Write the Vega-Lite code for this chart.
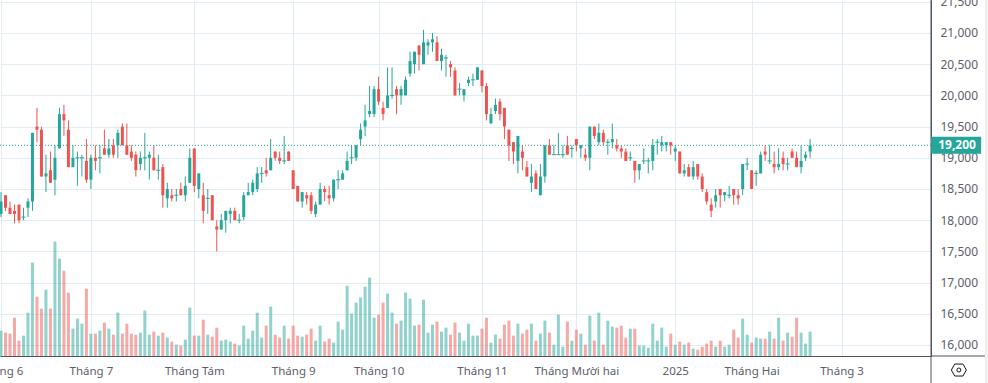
{"$schema":"https://vega.github.io/schema/vega-lite/v6.json","width":931,"height":356,"autosize":"none","padding":{"left":0,"top":0,"right":57,"bottom":27},"background":"white",
"datasets":{"candles":[
{"i":1,"open":18100,"high":18450,"low":18050,"close":18300,"volume":76},
{"i":2,"open":18400,"high":18400,"low":18150,"close":18200,"volume":70},
{"i":3,"open":18200,"high":18300,"low":18100,"close":18100,"volume":67},
{"i":4,"open":18150,"high":18250,"low":17950,"close":18100,"volume":115},
{"i":5,"open":18250,"high":18250,"low":17950,"close":18000,"volume":46},
{"i":6,"open":18050,"high":18200,"low":18000,"close":18050,"volume":61},
{"i":7,"open":18200,"high":18350,"low":18050,"close":18300,"volume":130},
{"i":8,"open":18300,"high":19400,"low":18150,"close":19400,"volume":280},
{"i":9,"open":19500,"high":19800,"low":19250,"close":19450,"volume":178},
{"i":10,"open":19450,"high":19500,"low":18700,"close":18700,"volume":142},
{"i":11,"open":18700,"high":19050,"low":18450,"close":18750,"volume":199},
{"i":12,"open":18800,"high":19100,"low":18600,"close":18600,"volume":142},
{"i":13,"open":18650,"high":19200,"low":18400,"close":19000,"volume":343},
{"i":14,"open":19150,"high":19800,"low":19150,"close":19700,"volume":292},
{"i":15,"open":19700,"high":19850,"low":19350,"close":19600,"volume":256},
{"i":16,"open":19450,"high":19600,"low":18850,"close":18850,"volume":190},
{"i":17,"open":18850,"high":19200,"low":18850,"close":19000,"volume":82},
{"i":18,"open":19000,"high":19100,"low":18550,"close":19000,"volume":112},
{"i":19,"open":19000,"high":19050,"low":18700,"close":19000,"volume":97},
{"i":20,"open":18950,"high":19300,"low":18600,"close":18650,"volume":202},
{"i":21,"open":18650,"high":19050,"low":18500,"close":19000,"volume":67},
{"i":22,"open":19000,"high":19200,"low":18800,"close":18950,"volume":67},
{"i":23,"open":19000,"high":19200,"low":18750,"close":19000,"volume":76},
{"i":24,"open":19150,"high":19450,"low":19050,"close":19050,"volume":100},
{"i":25,"open":19050,"high":19300,"low":19000,"close":19150,"volume":82},
{"i":26,"open":19200,"high":19300,"low":19000,"close":19050,"volume":64},
{"i":27,"open":19200,"high":19450,"low":19000,"close":19400,"volume":130},
{"i":28,"open":19500,"high":19550,"low":19200,"close":19200,"volume":67},
{"i":29,"open":19200,"high":19550,"low":19050,"close":19050,"volume":97},
{"i":30,"open":19100,"high":19200,"low":18950,"close":19000,"volume":67},
{"i":31,"open":19050,"high":19100,"low":18700,"close":18800,"volume":64},
{"i":32,"open":18900,"high":19100,"low":18800,"close":19000,"volume":70},
{"i":33,"open":19000,"high":19400,"low":18800,"close":19000,"volume":136},
{"i":34,"open":19000,"high":19100,"low":18650,"close":19050,"volume":64},
{"i":35,"open":19000,"high":19200,"low":18800,"close":18800,"volume":73},
{"i":36,"open":18800,"high":19050,"low":18650,"close":18800,"volume":61},
{"i":37,"open":18850,"high":18900,"low":18200,"close":18400,"volume":70},
{"i":38,"open":18350,"high":18600,"low":18200,"close":18500,"volume":55},
{"i":39,"open":18400,"high":18500,"low":18300,"close":18350,"volume":43},
{"i":40,"open":18400,"high":18500,"low":18300,"close":18400,"volume":34},
{"i":41,"open":18500,"high":18600,"low":18400,"close":18400,"volume":31},
{"i":42,"open":18400,"high":18700,"low":18300,"close":18550,"volume":49},
{"i":43,"open":18600,"high":19150,"low":18600,"close":19000,"volume":145},
{"i":44,"open":19150,"high":19150,"low":18450,"close":18550,"volume":61},
{"i":45,"open":18500,"high":18750,"low":18350,"close":18750,"volume":61},
{"i":46,"open":18400,"high":18600,"low":17950,"close":18150,"volume":109},
{"i":47,"open":18350,"high":18500,"low":18100,"close":18350,"volume":64},
{"i":48,"open":18400,"high":18400,"low":18000,"close":18000,"volume":58},
{"i":49,"open":17900,"high":18000,"low":17500,"close":17850,"volume":85},
{"i":50,"open":17850,"high":18100,"low":17850,"close":18000,"volume":46},
{"i":51,"open":18000,"high":18150,"low":17800,"close":18150,"volume":49},
{"i":52,"open":18100,"high":18200,"low":17950,"close":18150,"volume":43},
{"i":53,"open":18150,"high":18200,"low":18000,"close":18000,"volume":37},
{"i":54,"open":18000,"high":18100,"low":17950,"close":18000,"volume":31},
{"i":55,"open":18050,"high":18450,"low":18000,"close":18400,"volume":91},
{"i":56,"open":18400,"high":18600,"low":18400,"close":18450,"volume":52},
{"i":57,"open":18450,"high":18650,"low":18400,"close":18600,"volume":76},
{"i":58,"open":18500,"high":18850,"low":18450,"close":18750,"volume":130},
{"i":59,"open":18750,"high":18850,"low":18600,"close":18750,"volume":55},
{"i":60,"open":18800,"high":19000,"low":18700,"close":18750,"volume":91},
{"i":61,"open":18800,"high":19300,"low":18800,"close":19000,"volume":148},
{"i":62,"open":19100,"high":19100,"low":18950,"close":19000,"volume":64},
{"i":63,"open":19000,"high":19100,"low":18900,"close":18950,"volume":55},
{"i":64,"open":18950,"high":19350,"low":18900,"close":18950,"volume":91},
{"i":65,"open":19100,"high":19100,"low":18950,"close":18950,"volume":52},
{"i":66,"open":18800,"high":18800,"low":18500,"close":18500,"volume":91},
{"i":67,"open":18550,"high":18550,"low":18300,"close":18300,"volume":61},
{"i":68,"open":18300,"high":18450,"low":18200,"close":18450,"volume":58},
{"i":69,"open":18400,"high":18450,"low":18250,"close":18350,"volume":64},
{"i":70,"open":18400,"high":18450,"low":18100,"close":18150,"volume":82},
{"i":71,"open":18100,"high":18300,"low":18050,"close":18250,"volume":46},
{"i":72,"open":18250,"high":18600,"low":18250,"close":18500,"volume":91},
{"i":73,"open":18500,"high":18550,"low":18300,"close":18450,"volume":43},
{"i":74,"open":18400,"high":18550,"low":18250,"close":18350,"volume":52},
{"i":75,"open":18350,"high":18650,"low":18300,"close":18650,"volume":40},
{"i":76,"open":18650,"high":18800,"low":18500,"close":18650,"volume":103},
{"i":77,"open":18650,"high":18800,"low":18650,"close":18750,"volume":79},
{"i":78,"open":18800,"high":19100,"low":18800,"close":18950,"volume":211},
{"i":79,"open":19000,"high":19200,"low":18900,"close":19000,"volume":127},
{"i":80,"open":19000,"high":19200,"low":18950,"close":19200,"volume":160},
{"i":81,"open":19300,"high":19550,"low":19200,"close":19450,"volume":175},
{"i":82,"open":19500,"high":19850,"low":19350,"close":19600,"volume":208},
{"i":83,"open":19700,"high":20150,"low":19650,"close":19750,"volume":235},
{"i":84,"open":19700,"high":20150,"low":19650,"close":20100,"volume":115},
{"i":85,"open":20100,"high":20300,"low":19850,"close":19900,"volume":124},
{"i":86,"open":19800,"high":19900,"low":19600,"close":19700,"volume":160},
{"i":87,"open":19800,"high":20450,"low":19800,"close":20000,"volume":187},
{"i":88,"open":20000,"high":20450,"low":19950,"close":20000,"volume":130},
{"i":89,"open":20100,"high":20150,"low":19700,"close":20000,"volume":97},
{"i":90,"open":20000,"high":20150,"low":19850,"close":20100,"volume":106},
{"i":91,"open":20000,"high":20300,"low":20000,"close":20250,"volume":190},
{"i":92,"open":20350,"high":20700,"low":20300,"close":20550,"volume":172},
{"i":93,"open":20500,"high":20700,"low":20350,"close":20700,"volume":91},
{"i":94,"open":20800,"high":20800,"low":20400,"close":20650,"volume":94},
{"i":95,"open":20500,"high":21050,"low":20500,"close":20850,"volume":169},
{"i":96,"open":20800,"high":20900,"low":20650,"close":20850,"volume":70},
{"i":97,"open":20850,"high":21000,"low":20700,"close":20900,"volume":94},
{"i":98,"open":20850,"high":20950,"low":20550,"close":20550,"volume":103},
{"i":99,"open":20550,"high":20750,"low":20400,"close":20650,"volume":73},
{"i":100,"open":20600,"high":20650,"low":20300,"close":20600,"volume":85},
{"i":101,"open":20500,"high":20550,"low":20300,"close":20450,"volume":64},
{"i":102,"open":20400,"high":20450,"low":20000,"close":20000,"volume":100},
{"i":103,"open":20100,"high":20200,"low":20000,"close":20100,"volume":70},
{"i":104,"open":20000,"high":20100,"low":19900,"close":20100,"volume":46},
{"i":105,"open":20200,"high":20300,"low":20150,"close":20250,"volume":97},
{"i":106,"open":20250,"high":20350,"low":20150,"close":20250,"volume":61},
{"i":107,"open":20250,"high":20450,"low":20250,"close":20450,"volume":61},
{"i":108,"open":20400,"high":20400,"low":20050,"close":20150,"volume":82},
{"i":109,"open":20150,"high":20200,"low":19600,"close":19700,"volume":115},
{"i":110,"open":19550,"high":19800,"low":19550,"close":19700,"volume":40},
{"i":111,"open":19750,"high":19950,"low":19700,"close":19850,"volume":64},
{"i":112,"open":19900,"high":19950,"low":19600,"close":19700,"volume":52},
{"i":113,"open":19800,"high":19800,"low":19300,"close":19500,"volume":94},
{"i":114,"open":19450,"high":19450,"low":18950,"close":19200,"volume":106},
{"i":115,"open":19250,"high":19250,"low":18900,"close":19100,"volume":61},
{"i":116,"open":18950,"high":19350,"low":18750,"close":19350,"volume":97},
{"i":117,"open":19100,"high":19200,"low":18800,"close":19000,"volume":67},
{"i":118,"open":18850,"high":18950,"low":18700,"close":18700,"volume":79},
{"i":119,"open":18600,"high":18900,"low":18450,"close":18700,"volume":97},
{"i":120,"open":18750,"high":18800,"low":18500,"close":18500,"volume":46},
{"i":121,"open":18400,"high":18900,"low":18400,"close":18700,"volume":67},
{"i":122,"open":18700,"high":19200,"low":18600,"close":19200,"volume":106},
{"i":123,"open":19200,"high":19300,"low":19050,"close":19050,"volume":70},
{"i":124,"open":19050,"high":19200,"low":19050,"close":19050,"volume":34},
{"i":125,"open":19050,"high":19400,"low":19050,"close":19050,"volume":124},
{"i":126,"open":19050,"high":19200,"low":19000,"close":19050,"volume":28},
{"i":127,"open":19200,"high":19350,"low":19050,"close":19050,"volume":103},
{"i":128,"open":19150,"high":19200,"low":19000,"close":19150,"volume":46},
{"i":129,"open":19300,"high":19300,"low":19100,"close":19200,"volume":79},
{"i":130,"open":19150,"high":19200,"low":19000,"close":19200,"volume":67},
{"i":131,"open":19050,"high":19150,"low":18950,"close":19000,"volume":34},
{"i":132,"open":19000,"high":19500,"low":18800,"close":19500,"volume":121},
{"i":133,"open":19500,"high":19500,"low":19300,"close":19350,"volume":46},
{"i":134,"open":19250,"high":19550,"low":19200,"close":19400,"volume":130},
{"i":135,"open":19400,"high":19450,"low":19200,"close":19250,"volume":34},
{"i":136,"open":19250,"high":19300,"low":19050,"close":19250,"volume":106},
{"i":137,"open":19250,"high":19550,"low":19150,"close":19300,"volume":88},
{"i":138,"open":19200,"high":19300,"low":19100,"close":19150,"volume":85},
{"i":139,"open":19150,"high":19200,"low":19000,"close":19100,"volume":91},
{"i":140,"open":19100,"high":19150,"low":18950,"close":18950,"volume":55},
{"i":141,"open":19000,"high":19100,"low":18950,"close":19000,"volume":82},
{"i":142,"open":18950,"high":18950,"low":18600,"close":18800,"volume":82},
{"i":143,"open":18800,"high":18900,"low":18650,"close":18900,"volume":31},
{"i":144,"open":18950,"high":19150,"low":18900,"close":18950,"volume":31},
{"i":145,"open":18950,"high":19000,"low":18750,"close":18950,"volume":25},
{"i":146,"open":18950,"high":19300,"low":18800,"close":19200,"volume":97},
{"i":147,"open":19250,"high":19300,"low":19050,"close":19250,"volume":46},
{"i":148,"open":19200,"high":19350,"low":19100,"close":19250,"volume":85},
{"i":149,"open":19200,"high":19250,"low":19100,"close":19250,"volume":28},
{"i":150,"open":19250,"high":19250,"low":19050,"close":19200,"volume":67},
{"i":151,"open":19100,"high":19200,"low":18950,"close":19150,"volume":34},
{"i":152,"open":19100,"high":19100,"low":18750,"close":18750,"volume":43},
{"i":153,"open":18750,"high":18900,"low":18700,"close":18800,"volume":34},
{"i":154,"open":18850,"high":18900,"low":18700,"close":18700,"volume":40},
{"i":155,"open":18700,"high":18950,"low":18650,"close":18850,"volume":22},
{"i":156,"open":18900,"high":18900,"low":18650,"close":18700,"volume":19},
{"i":157,"open":18700,"high":18750,"low":18450,"close":18500,"volume":28},
{"i":158,"open":18450,"high":18500,"low":18250,"close":18300,"volume":37},
{"i":159,"open":18250,"high":18350,"low":18050,"close":18150,"volume":46},
{"i":160,"open":18300,"high":18500,"low":18200,"close":18400,"volume":28},
{"i":161,"open":18500,"high":18500,"low":18200,"close":18400,"volume":46},
{"i":162,"open":18400,"high":18450,"low":18300,"close":18450,"volume":28},
{"i":163,"open":18400,"high":18550,"low":18350,"close":18400,"volume":34},
{"i":164,"open":18500,"high":18500,"low":18250,"close":18400,"volume":79},
{"i":165,"open":18400,"high":18500,"low":18250,"close":18350,"volume":55},
{"i":166,"open":18500,"high":18900,"low":18400,"close":18900,"volume":112},
{"i":167,"open":18900,"high":19000,"low":18800,"close":18900,"volume":64},
{"i":168,"open":18800,"high":18800,"low":18500,"close":18500,"volume":40},
{"i":169,"open":18750,"high":18800,"low":18550,"close":18750,"volume":55},
{"i":170,"open":18750,"high":19100,"low":18750,"close":19050,"volume":52},
{"i":171,"open":19100,"high":19200,"low":18950,"close":19050,"volume":52},
{"i":172,"open":18950,"high":19200,"low":18900,"close":18950,"volume":73},
{"i":173,"open":18900,"high":19100,"low":18750,"close":18850,"volume":52},
{"i":174,"open":18850,"high":19150,"low":18800,"close":18900,"volume":115},
{"i":175,"open":19000,"high":19100,"low":18800,"close":18900,"volume":46},
{"i":176,"open":18900,"high":19000,"low":18800,"close":18900,"volume":70},
{"i":177,"open":19100,"high":19150,"low":19000,"close":19000,"volume":58},
{"i":178,"open":19000,"high":19100,"low":18850,"close":18850,"volume":115},
{"i":179,"open":18850,"high":19200,"low":18750,"close":18950,"volume":70},
{"i":180,"open":19000,"high":19100,"low":18950,"close":19050,"volume":37},
{"i":181,"open":19100,"high":19300,"low":19000,"close":19200,"volume":73}
],"last":[{"price":19200}]},
"data":{"name":"candles"},
"config":{"view":{"stroke":null},"font":"Noto Sans","scale":{"continuousPadding":0}},
"layer":[
{"layer":[
{"mark":{"type":"rule","strokeWidth":1},"encoding":{"x":{"field":"i","type":"quantitative","scale":{"domain":[0.7775,207.9],"nice":false,"zero":false,"padding":0},"axis":{"orient":"bottom","title":null,"values":[1,21,44,66,85,108,129,151,168,188],"grid":true,"gridColor":"#e3ecf3","gridWidth":1,"domain":true,"domainColor":"#50535e","domainWidth":1,"ticks":false,"labelPadding":9,"labelFontSize":11.5,"labelColor":"#5d606b","labelOverlap":false,"labelBound":false,"labelFlush":false,"labelExpr":"{1:'Tháng 6',21:'Tháng 7',44:'Tháng Tám',66:'Tháng 9',85:'Tháng 10',108:'Tháng 11',129:'Tháng Mười hai',151:'2025',168:'Tháng Hai',188:'Tháng 3'}[datum.value]","encode":{"labels":{"update":{"fontWeight":{"signal":"datum.value==151?'bold':'normal'"}}}}}},"y":{"field":"low","type":"quantitative","scale":{"domain":[15823.7,21528.8],"nice":false,"zero":false},"axis":{"orient":"right","title":null,"values":[16000,16500,17000,17500,18000,18500,19000,19500,20000,20500,21000,21500],"tickCount":20,"format":",.0f","grid":true,"gridColor":"#e3ecf3","gridWidth":1,"domain":true,"domainColor":"#50535e","domainWidth":1,"ticks":false,"labelPadding":9,"labelFontSize":12,"labelColor":"#5d606b","labelOverlap":false,"labelBound":false,"labelFlush":false}},"y2":{"field":"high"},"color":{"condition":{"test":"datum.close>=datum.open","value":"#26a69a"},"value":"#ef5350"}}},
{"transform":[{"filter":"datum.open!=datum.close"}],"mark":{"type":"bar","width":3},"encoding":{"x":{"field":"i","type":"quantitative"},"y":{"field":"open","type":"quantitative"},"y2":{"field":"close"},"color":{"condition":{"test":"datum.close>=datum.open","value":"#26a69a"},"value":"#ef5350"}}},
{"transform":[{"filter":"datum.open==datum.close"}],"mark":{"type":"tick","orient":"horizontal","size":4,"thickness":1,"color":"#26a69a","opacity":1},"encoding":{"x":{"field":"i","type":"quantitative"},"y":{"field":"close","type":"quantitative"}}},
{"mark":{"type":"rule","color":"#26a69a","strokeWidth":1,"strokeDash":[1,2]},"data":{"name":"last"},"encoding":{"y":{"field":"price","type":"quantitative"}}},
{"mark":{"type":"rect","color":"#f0f0f0","clip":false},"data":{"values":[{}]},"encoding":{"x":{"datum":219.9,"type":"quantitative"},"x2":{"datum":220.6},"y":{"datum":21528.8,"type":"quantitative"},"y2":{"datum":15391}}},
{"mark":{"type":"rule","color":"#50535e","strokeWidth":1,"clip":false},"data":{"values":[{}]},"encoding":{"x":{"datum":207.9,"type":"quantitative"},"y":{"datum":21528.8,"type":"quantitative"},"y2":{"datum":15391}}},
{"mark":{"type":"rule","color":"#50535e","strokeWidth":1,"clip":false},"data":{"values":[{}]},"encoding":{"x":{"datum":207.9,"type":"quantitative"},"x2":{"datum":219.9},"y":{"datum":15823.7,"type":"quantitative"}}},
{"mark":{"type":"rect","color":"#26a69a","height":17,"width":50,"clip":false},"data":{"name":"last"},"encoding":{"x":{"datum":213.5,"type":"quantitative"},"y":{"field":"price","type":"quantitative"}}},
{"mark":{"type":"text","color":"#ffffff","fontWeight":"bold","fontSize":12,"align":"right","clip":false},"data":{"name":"last"},"encoding":{"x":{"datum":217.9,"type":"quantitative"},"y":{"field":"price","type":"quantitative"},"text":{"field":"price","type":"quantitative","format":","}}},
{"mark":{"type":"point","shape":"M-1,0L-0.55,-0.8L0.55,-0.8L1,0L0.55,0.8L-0.55,0.8Z","size":225,"filled":false,"color":"#131722","strokeWidth":1,"opacity":1,"clip":false},"data":{"values":[{}]},"encoding":{"x":{"datum":214.1,"type":"quantitative"},"y":{"datum":15599,"type":"quantitative"}}},
{"mark":{"type":"point","shape":"circle","size":16,"filled":false,"color":"#131722","strokeWidth":1,"opacity":1,"clip":false},"data":{"values":[{}]},"encoding":{"x":{"datum":214.1,"type":"quantitative"},"y":{"datum":15599,"type":"quantitative"}}}
]},
{"mark":{"type":"bar","width":3,"opacity":0.5},"encoding":{"x":{"field":"i","type":"quantitative"},"y":{"field":"volume","type":"quantitative","scale":{"domain":[0,1068],"nice":false},"axis":null},"color":{"condition":{"test":"datum.close>=datum.open","value":"#26a69a"},"value":"#ef5350"}}}
],
"resolve":{"scale":{"y":"independent"}}}
